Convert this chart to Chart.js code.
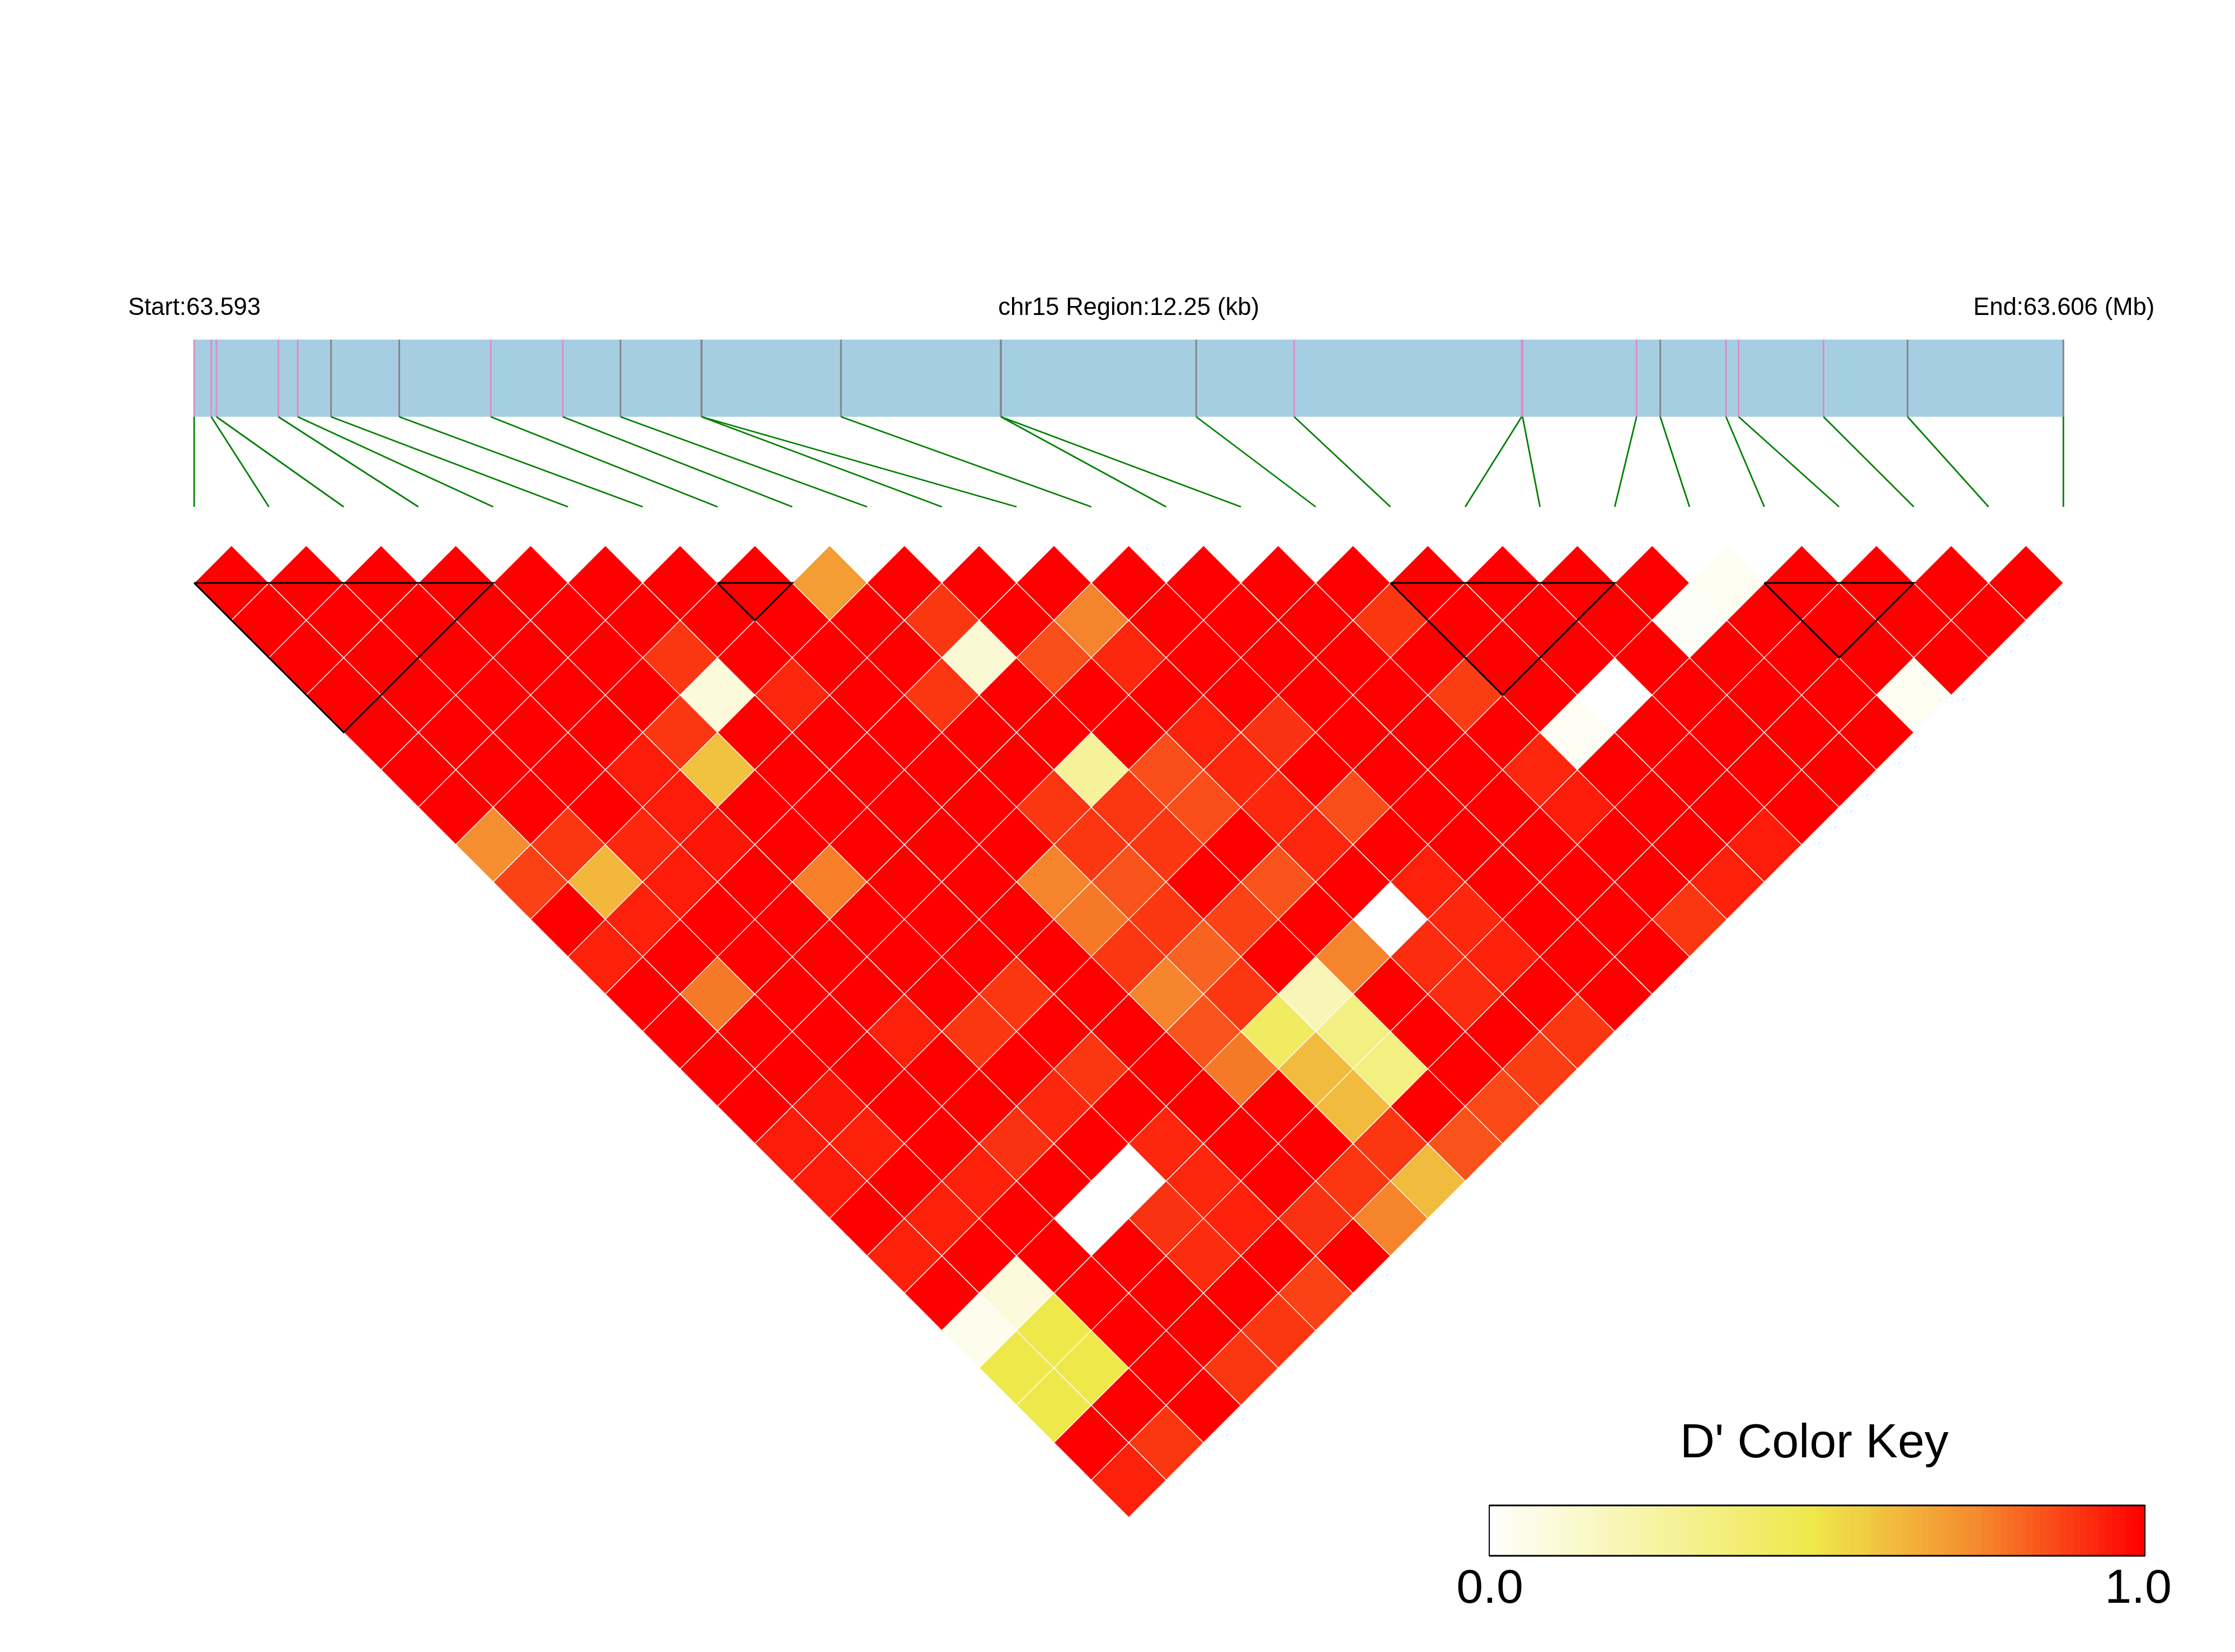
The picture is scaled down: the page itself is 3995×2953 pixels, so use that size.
<!DOCTYPE html>
<html lang="en">
<head>
<meta charset="UTF-8">
<title>LD heatmap chr15</title>
<script src="https://cdn.jsdelivr.net/npm/chart.js"></script>
<style>
  html, body { margin: 0; padding: 0; background: #fff; }
  #wrap { width: 3995px; height: 2953px; position: relative; }
</style>
</head>
<body>
<div id="wrap"><canvas id="ld"></canvas></div>
<script>
// region
const chromName = 'chr15';
const startMb = '63.593';
const endMb = '63.606';
const regionKb = 12.25;

// SNP positions, kb from region start
const snpPosKb = [0, 0.112, 0.146, 0.552, 0.679, 0.897, 1.344, 1.944, 2.416, 2.794,
                  3.325, 3.325, 4.239, 5.287, 5.287, 6.567, 7.209, 8.700, 8.706, 9.453,
                  9.608, 10.039, 10.122, 10.678, 11.229, 12.25];
// tick colour in the gene bar: 1 = pink, 0 = grey
const snpMark = [1, 1, 1, 1, 1, 0, 0, 1, 1, 0, 0, 0, 0, 0, 0, 0, 1, 1, 1, 1, 0, 1, 1, 1, 0, 0];

// haplotype blocks, first and last SNP
const blocks = [[0, 4], [7, 8], [16, 19], [21, 23]];

// D' : dprime[i][k] is the pair (i, i+1+k)
const dprime = [
  [1, 1, 1, 1, 1, 1, 1, 0.74, 0.88, 1, 0.94, 1, 1, 1, 1, 0.95, 0.95, 1, 0.94, 1, 0.05, 0.5, 0.5, 1, 0.94],
  [1, 1, 1, 1, 1, 1, 1, 0.9, 0.63, 0.94, 1, 0.78, 1, 1, 0.96, 0.94, 1, 0.94, 1, 0.1, 0.5, 0.5, 1, 0.9],
  [1, 1, 1, 1, 1, 1, 1, 0.93, 0.95, 1, 1, 1, 1, 1, 1, 1, 0.94, 1, 1, 1, 1, 1, 1],
  [1, 1, 1, 1, 1, 0.95, 0.95, 0.96, 1, 1, 1, 1, 0.94, 1, 1, 0.91, 1, 0, 1, 1, 1, 0.9],
  [1, 1, 1, 1, 0.9, 0.6, 1, 1, 0.77, 1, 1, 1, 0.9, 1, 0.93, 1, 0, 0.91, 0.92, 1, 0.9],
  [1, 1, 0.9, 0.1, 1, 1, 1, 1, 1, 1, 1, 0.9, 1, 0.9, 1, 0.93, 0.93, 0.94, 1, 0.88],
  [1, 1, 1, 0.93, 1, 1, 1, 1, 1, 1, 1, 1, 1, 1, 1, 1, 1, 0.91, 1],
  [1, 1, 1, 1, 1, 1, 1, 1, 0.76, 0.78, 0.9, 0.76, 0.85, 0.78, 1, 1, 0.9, 0.76],
  [0.7, 1, 1, 0.9, 1, 1, 0.9, 0.9, 0.85, 0.9, 0.82, 0.9, 0.44, 0.62, 0.62, 0.9, 0.62],
  [1, 0.9, 0.12, 1, 1, 0.28, 0.9, 0.9, 1, 0.88, 1, 0.2, 0.35, 0.35, 1, 0.85],
  [1, 1, 0.86, 1, 1, 0.86, 0.86, 1, 0.85, 1, 0.76, 1, 1, 1, 0.87],
  [1, 0.76, 0.93, 1, 0.94, 0.93, 0.93, 0.93, 1, 0, 0.92, 0.92, 1, 0.89],
  [1, 1, 1, 1, 0.91, 1, 0.86, 1, 0.94, 0.93, 0.94, 1, 0.9],
  [1, 1, 1, 1, 1, 1, 1, 1, 1, 1, 1, 1],
  [1, 1, 1, 1, 1, 1, 1, 1, 1, 1, 1],
  [1, 0.9, 1, 0.89, 1, 0.93, 0.95, 1, 1, 0.9],
  [1, 1, 1, 1, 0.03, 1, 1, 1, 0.94],
  [1, 1, 1, 0, 1, 1, 1, 0.95],
  [1, 1, 1, 1, 1, 1, 1],
  [1, 0.02, 1, 1, 1, 1],
  [0.04, 1, 1, 1, 1],
  [1, 1, 1, 0.04],
  [1, 1, 1],
  [1, 1],
  [1]
];

const keyTitle = "D' Color Key";
const keyTicks = ['0.0', '1.0'];

// white -> yellow -> orange -> red, 100 steps like the key
const colorStops = [[0, [255, 255, 255]], [0.5, [238, 232, 74]], [0.75, [245, 138, 46]], [1, [255, 0, 0]]];
function dColor(v) {
  v = Math.round(v * 100) / 100;
  for (let k = 1; k < colorStops.length; k++) {
    if (v <= colorStops[k][0]) {
      const a = colorStops[k - 1], b = colorStops[k];
      const t = (v - a[0]) / (b[0] - a[0]);
      return 'rgb(' + a[1].map((c, n) => Math.round(c + (b[1][n] - c) * t)).join(',') + ')';
    }
  }
  return 'rgb(255,0,0)';
}

const nSnp = snpPosKb.length;
const cells = [];
dprime.forEach((row, i) => row.forEach((v, k) => {
  const j = i + 1 + k;
  cells.push({ x: (i + j) / 2, y: (j - i) / 2, v: v });
}));

function halfStep(chart) {
  const xs = chart.scales.x;
  return xs.getPixelForValue(0.5) - xs.getPixelForValue(0);
}

const blockSets = blocks.map(([a, b]) => ({
  data: [{ x: a, y: 0.5 }, { x: b, y: 0.5 }, { x: (a + b) / 2, y: 0.5 + (b - a) / 2 }, { x: a, y: 0.5 }],
  showLine: true,
  borderColor: '#000',
  borderWidth: 3,
  pointRadius: 0,
  order: 0
}));

const FONT = '"Liberation Sans", Arial, sans-serif';

// gene bar, SNP ticks and links
const headerPlugin = {
  id: 'header',
  beforeDatasetsDraw(chart) {
    const ctx = chart.ctx, xs = chart.scales.x;
    const posX = kb => xs.getPixelForValue(kb / regionKb * (nSnp - 1));
    const x0 = xs.getPixelForValue(0), x1 = xs.getPixelForValue(nSnp - 1);
    const barTop = 607, barBot = 745, linkBot = 906;
    ctx.save();
    ctx.fillStyle = '#a6cee3';
    ctx.fillRect(x0, barTop, x1 - x0, barBot - barTop);

    ctx.lineWidth = 3;
    snpPosKb.forEach((kb, i) => {
      const x = posX(kb);
      ctx.strokeStyle = snpMark[i] ? '#e08cc2' : '#858585';
      ctx.beginPath();
      ctx.moveTo(x, barTop);
      ctx.lineTo(x, barBot);
      ctx.stroke();
    });

    ctx.strokeStyle = '#008000';
    ctx.lineWidth = 2.8;
    snpPosKb.forEach((kb, i) => {
      ctx.beginPath();
      ctx.moveTo(posX(kb), barBot);
      ctx.lineTo(xs.getPixelForValue(i), linkBot);
      ctx.stroke();
    });

    ctx.fillStyle = '#000';
    ctx.font = '43.5px ' + FONT;
    ctx.textBaseline = 'alphabetic';
    ctx.textAlign = 'left';
    ctx.fillText('Start:' + startMb, x0 - 118, 563);
    ctx.textAlign = 'center';
    ctx.fillText(chromName + ' Region:' + regionKb + ' (kb)', (x0 + x1) / 2, 563);
    ctx.textAlign = 'right';
    ctx.fillText('End:' + endMb + ' (Mb)', x1 + 163, 563);
    ctx.restore();
  }
};

// D' colour key
const keyPlugin = {
  id: 'colorKey',
  afterDraw(chart) {
    const ctx = chart.ctx;
    const left = 2662, right = 3834, top = 2691, bottom = 2781;
    const steps = 100, w = (right - left) / steps;
    ctx.save();
    for (let k = 0; k < steps; k++) {
      ctx.fillStyle = dColor((k + 0.5) / steps);
      ctx.fillRect(left + k * w, top, w + 0.6, bottom - top);
    }
    ctx.strokeStyle = '#000';
    ctx.lineWidth = 2;
    ctx.strokeRect(left, top, right - left, bottom - top);
    ctx.lineWidth = 3;
    ctx.beginPath();
    ctx.moveTo(left, top); ctx.lineTo(right, top);
    ctx.moveTo(left, bottom); ctx.lineTo(right, bottom);
    ctx.stroke();

    ctx.fillStyle = '#000';
    ctx.font = '86px ' + FONT;
    ctx.textAlign = 'center';
    ctx.textBaseline = 'alphabetic';
    ctx.fillText(keyTitle, 3243, 2605);
    ctx.fillText(keyTicks[0], 2663, 2865);
    ctx.fillText(keyTicks[1], 3822, 2865);
    ctx.restore();
  }
};

new Chart(document.getElementById('ld'), {
  type: 'scatter',
  data: {
    datasets: [
      ...blockSets,
      {
        data: cells,
        pointStyle: 'rectRot',
        pointRadius: ctx => halfStep(ctx.chart),
        pointBackgroundColor: ctx => (ctx.raw ? dColor(ctx.raw.v) : '#f00'),
        pointBorderColor: '#fff',
        pointBorderWidth: 1.3,
        order: 1
      }
    ]
  },
  options: {
    responsive: true,
    maintainAspectRatio: false,
    animation: false,
    events: [],
    layout: { padding: 0 },
    plugins: { legend: { display: false }, tooltip: { enabled: false } },
    scales: {
      x: { type: 'linear', min: -2.5964, max: 27.2955, display: false },
      y: { type: 'linear', reverse: true, min: -7.2966, max: 14.7998, display: false }
    }
  },
  plugins: [headerPlugin, keyPlugin]
});
</script>
</body>
</html>
